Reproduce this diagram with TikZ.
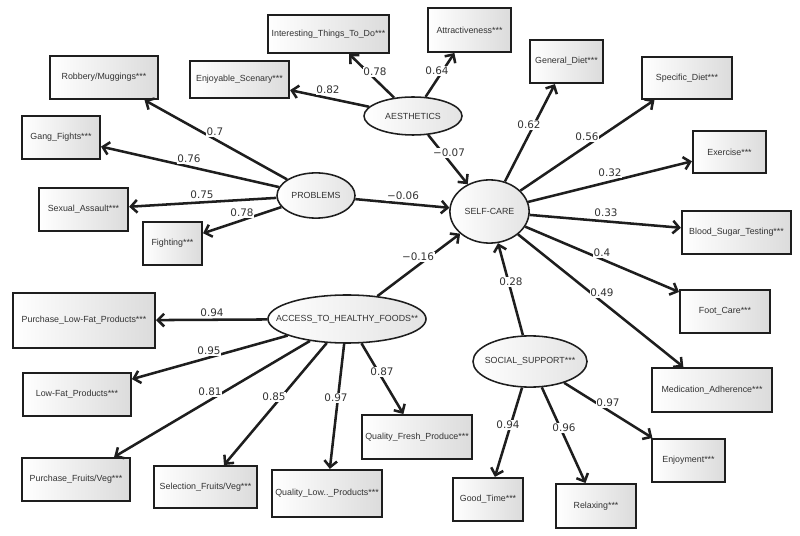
\documentclass[tikz,border=0pt]{standalone}
\usepackage{fontspec}
\setmainfont{Liberation Sans}
\newfontfamily\numfont{DejaVu Sans}
\usetikzlibrary{shapes.geometric,arrows.meta}
\definecolor{txt}{HTML}{333333}
\definecolor{edge}{HTML}{1E1E1E}
\newcommand{\lat}[1]{\makebox[0pt]{#1}}

\begin{document}
\begin{tikzpicture}[x=0.025cm, y=-0.025cm,
		box/.style={draw=edge, line width=1.4pt, left color=white, right color=black!14,
			inner sep=0pt, font=\fontsize{6.3}{7}\selectfont, text=txt},
		latent/.style={ellipse, draw=edge, line width=1.1pt, left color=white, right color=black!11,
			inner sep=0pt, font=\fontsize{6.3}{7}\selectfont, text=txt},
		lbl/.style={fill=white, inner sep=0.6pt, font=\numfont\fontsize{7.4}{8}\selectfont, text=txt},
		arr/.style={draw=edge, line width=1.8pt, -{Straight Barb[length=4.5pt,width=9pt]}}]

	\useasboundingbox (0,0) rectangle (800,536);

	% ===== latent variables =====
	\node[latent, minimum width=2.45cm, minimum height=0.95cm] (aest) at (413,116) {\lat{AESTHETICS}};
	\node[latent, minimum width=1.95cm, minimum height=1.13cm] (prob) at (316,195.5) {\lat{PROBLEMS}};
	\node[latent, minimum width=1.98cm, minimum height=1.58cm] (self) at (489.5,211.5) {\lat{SELF-CARE}};
	\node[latent, minimum width=3.95cm, minimum height=1.2cm] (food) at (347,319) {\lat{ACCESS\_TO\_HEALTHY\_FOODS**}};
	\node[latent, minimum width=2.85cm, minimum height=1.28cm] (soc) at (530,361.5) {\lat{SOCIAL\_SUPPORT***}};

	% ===== aesthetics items =====
	\node[box, minimum width=3.03cm, minimum height=0.95cm] (intr) at (328.5,34) {Interesting\_Things\_To\_Do***};
	\node[box, minimum width=2.08cm, minimum height=1.1cm] (attr) at (469.5,30) {Attractiveness***};
	\node[box, minimum width=2.48cm, minimum height=0.93cm] (scen) at (239.5,79.5) {Enjoyable\_Scenary***};

	% ===== problems items =====
	\node[box, minimum width=2.7cm, minimum height=1.08cm] (rob) at (104,77.5) {Robbery/Muggings***};
	\node[box, minimum width=1.95cm, minimum height=1.08cm] (gang) at (61,137.5) {Gang\_Fights***};
	\node[box, minimum width=2.23cm, minimum height=1.08cm] (sex) at (83.5,209.5) {Sexual\_Assault***};
	\node[box, minimum width=1.48cm, minimum height=1.08cm] (fight) at (172.5,243.5) {Fighting***};

	% ===== self-care items =====
	\node[box, minimum width=1.83cm, minimum height=1.08cm] (gdiet) at (566.5,61.5) {General\_Diet***};
	\node[box, minimum width=2.25cm, minimum height=1.05cm] (sdiet) at (687,78) {Specific\_Diet***};
	\node[box, minimum width=1.83cm, minimum height=1.05cm] (exer) at (729.5,152) {Exercise***};
	\node[box, minimum width=2.73cm, minimum height=1.08cm] (blood) at (736.5,232.5) {Blood\_Sugar\_Testing***};
	\node[box, minimum width=2.25cm, minimum height=1.08cm] (foot) at (725,311.5) {Foot\_Care***};
	\node[box, minimum width=3.0cm, minimum height=1.1cm] (med) at (712,390) {Medication\_Adherence***};

	% ===== food items =====
	\node[box, minimum width=3.55cm, minimum height=1.38cm] (plf) at (84,320.5) {Purchase\_Low-Fat\_Products***};
	\node[box, minimum width=2.7cm, minimum height=1.08cm] (lf) at (77,394.5) {Low-Fat\_Products***};
	\node[box, minimum width=2.7cm, minimum height=1.08cm] (pfv) at (76,479.5) {Purchase\_Fruits/Veg***};
	\node[box, minimum width=2.58cm, minimum height=1.05cm] (sfv) at (205.5,487) {Selection\_Fruits/Veg***};
	\node[box, minimum width=2.75cm, minimum height=1.18cm] (qlp) at (327,493.5) {Quality\_Low..\_Products***};
	\node[box, minimum width=2.75cm, minimum height=1.1cm] (qfp) at (417,437) {Quality\_Fresh\_Produce***};

	% ===== social support items =====
	\node[box, minimum width=1.75cm, minimum height=1.08cm] (good) at (488,499.5) {Good\_Time***};
	\node[box, minimum width=2.0cm, minimum height=1.1cm] (relax) at (596,506) {Relaxing***};
	\node[box, minimum width=1.83cm, minimum height=1.08cm] (enjoy) at (688.5,460.5) {Enjoyment***};

	% ===== paths =====
	\foreach \a/\b in {aest/intr, aest/attr, aest/scen, aest/self,
			prob/rob, prob/gang, prob/sex, prob/fight, prob/self,
			self/gdiet, self/sdiet, self/exer, self/blood, self/foot, self/med,
			food/self, food/plf, food/lf, food/pfv, food/sfv, food/qlp, food/qfp,
			soc/self, soc/good, soc/relax, soc/enjoy}
		\draw[arr] (\a) -- (\b);

	% ===== weights =====
	\node[lbl] (w-intr) at (375,72) {0.78};
	\node[lbl] (w-attr) at (437,71) {0.64};
	\node[lbl] (w-scen) at (328,90) {0.82};
	\node[lbl] (w-aest) at (449,153) {−0.07};
	\node[lbl] (w-rob) at (215,132) {0.7};
	\node[lbl] (w-gang) at (189,159) {0.76};
	\node[lbl] (w-sex) at (202,195) {0.75};
	\node[lbl] (w-fight) at (242,213) {0.78};
	\node[lbl] (w-prob) at (403,196) {−0.06};
	\node[lbl] (w-gdiet) at (529,125) {0.62};
	\node[lbl] (w-sdiet) at (587,137) {0.56};
	\node[lbl] (w-exer) at (610,173) {0.32};
	\node[lbl] (w-blood) at (606,213) {0.33};
	\node[lbl] (w-foot) at (602,253) {0.4};
	\node[lbl] (w-med) at (602,293) {0.49};
	\node[lbl] (w-food) at (418,257) {−0.16};
	\node[lbl] (w-soc) at (511,282) {0.28};
	\node[lbl] (w-plf) at (212,313) {0.94};
	\node[lbl] (w-lf) at (209,351) {0.95};
	\node[lbl] (w-pfv) at (210,392) {0.81};
	\node[lbl] (w-sfv) at (274,397) {0.85};
	\node[lbl] (w-qlp) at (336,398) {0.97};
	\node[lbl] (w-qfp) at (382,372) {0.87};
	\node[lbl] (w-good) at (508,425) {0.94};
	\node[lbl] (w-relax) at (564,428) {0.96};
	\node[lbl] (w-enjoy) at (608,403) {0.97};
\end{tikzpicture}
\end{document}
